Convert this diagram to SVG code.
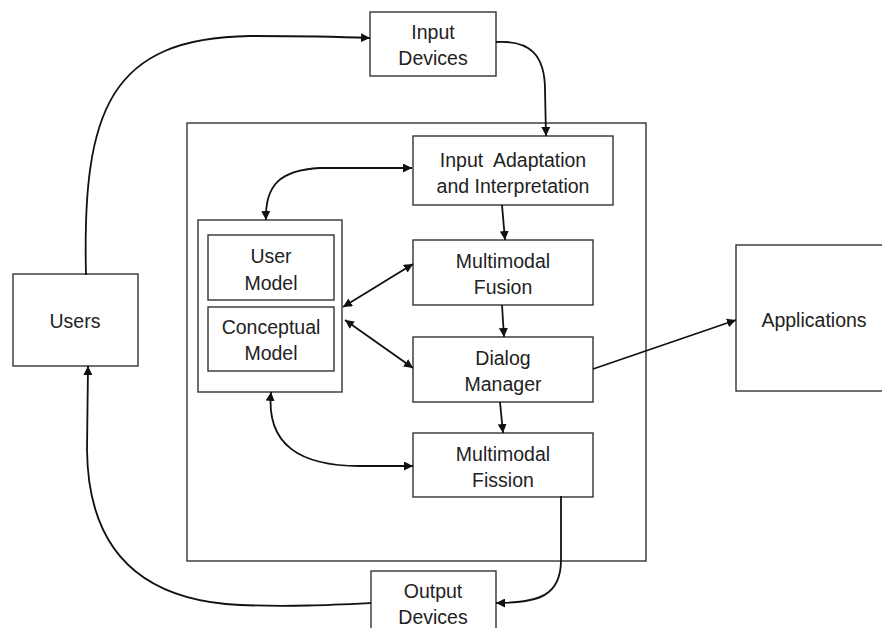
<svg xmlns="http://www.w3.org/2000/svg" width="882" height="628" viewBox="0 0 882 628">
<style>
.box{fill:#fff;stroke:#333;stroke-width:1.4}
.frame{fill:none;stroke:#333;stroke-width:1.4}
.t{font-family:"Liberation Sans",Arial,sans-serif;font-size:19.5px;fill:#222;text-anchor:middle}
.c{fill:none;stroke:#111;stroke-width:1.8}
</style>
<defs>
<marker id="ah" viewBox="0 0 10 10" refX="10" refY="5" markerWidth="9" markerHeight="9" markerUnits="userSpaceOnUse" orient="auto-start-reverse">
<path d="M0,0 L10,5 L0,10 z" fill="#111"/>
</marker>
</defs>
<rect x="0" y="0" width="882" height="628" fill="#fff"/>
<g id="system-frame"><rect class="frame" x="187" y="123" width="459" height="438"/></g>
<g id="input-devices"><rect class="box" x="370" y="12" width="126" height="64"/><text class="t" x="433" y="39">Input</text><text class="t" x="433" y="65">Devices</text></g>
<g id="input-adaptation"><rect class="box" x="413" y="136" width="200" height="69"/><text class="t" x="513" y="167" xml:space="preserve">Input  Adaptation</text><text class="t" x="513" y="193">and Interpretation</text></g>
<g id="models"><rect class="box" x="198" y="220" width="144" height="172"/></g>
<g id="user-model"><rect class="box" x="208" y="235" width="126" height="65"/><text class="t" x="271" y="263">User</text><text class="t" x="271" y="290">Model</text></g>
<g id="conceptual-model"><rect class="box" x="208" y="307" width="126" height="64"/><text class="t" x="271" y="334">Conceptual</text><text class="t" x="271" y="360">Model</text></g>
<g id="fusion"><rect class="box" x="413" y="240" width="180" height="65"/><text class="t" x="503" y="268">Multimodal</text><text class="t" x="503" y="294">Fusion</text></g>
<g id="dialog"><rect class="box" x="413" y="337" width="180" height="65"/><text class="t" x="503" y="365">Dialog</text><text class="t" x="503" y="391">Manager</text></g>
<g id="fission"><rect class="box" x="413" y="433" width="180" height="64"/><text class="t" x="503" y="461">Multimodal</text><text class="t" x="503" y="487">Fission</text></g>
<g id="users"><rect class="box" x="13" y="274" width="125" height="92"/><text class="t" x="75" y="328">Users</text></g>
<g id="applications"><rect class="box" x="736" y="245" width="160" height="146"/><text class="t" x="814" y="327">Applications</text></g>
<g id="output-devices"><rect class="box" x="371" y="571" width="125" height="70"/><text class="t" x="433" y="598">Output</text><text class="t" x="433" y="624">Devices</text></g>
<g id="connectors">
<path class="c" d="M86,275 C82,110 110,38 250,36 C310,36 345,37 370,38" marker-end="url(#ah)"/>
<path class="c" d="M496,42 C530,40 545,55 545,90 L546,136" marker-end="url(#ah)"/>
<path class="c" d="M412,168 L320,168 C280,170 265,185 266,220" marker-start="url(#ah)" marker-end="url(#ah)"/>
<path class="c" d="M502,205 L505,240" marker-end="url(#ah)"/>
<path class="c" d="M502,305 L504,337" marker-end="url(#ah)"/>
<path class="c" d="M500,402 L503,433" marker-end="url(#ah)"/>
<path class="c" d="M343,307 L413,264" marker-start="url(#ah)" marker-end="url(#ah)"/>
<path class="c" d="M345,320 L413,368" marker-start="url(#ah)" marker-end="url(#ah)"/>
<path class="c" d="M593,369 L736,320" marker-end="url(#ah)"/>
<path class="c" d="M271,392 C266,445 300,466 360,466 L413,466" marker-start="url(#ah)" marker-end="url(#ah)"/>
<path class="c" d="M561,496 L561,560 C561,595 540,603 496,603" marker-end="url(#ah)"/>
<path class="c" d="M371,603 C330,605 290,607 240,605 C130,600 88,540 87,450 L88,366" marker-end="url(#ah)"/>
</g>
</svg>
